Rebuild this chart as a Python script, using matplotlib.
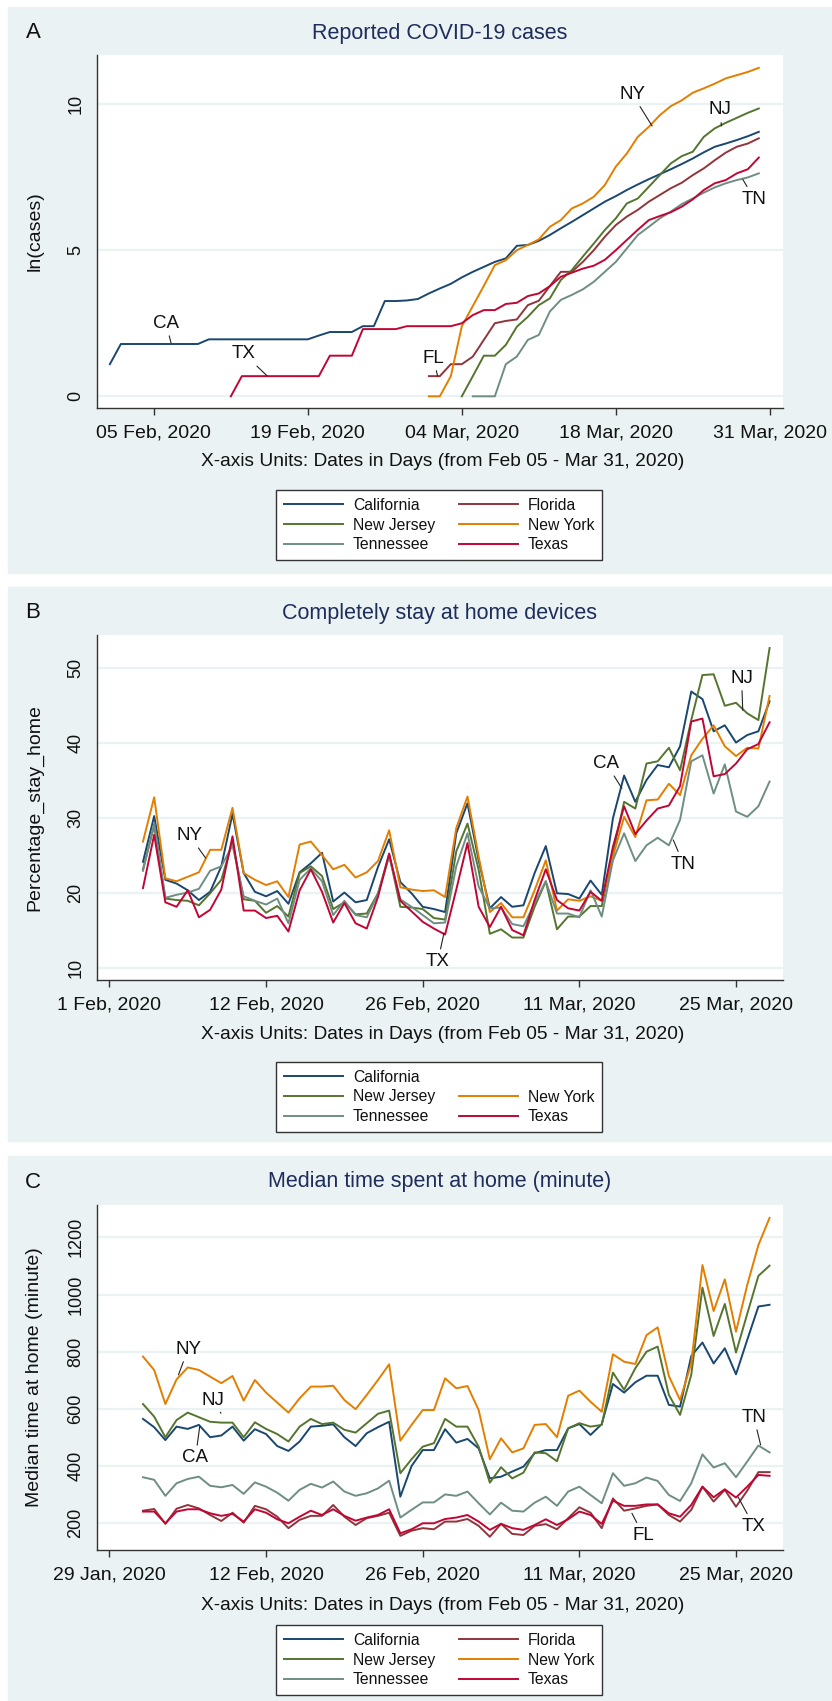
import matplotlib
matplotlib.use("Agg")
import matplotlib.pyplot as plt
from matplotlib.patches import Rectangle
from matplotlib.lines import Line2D

# ---------------- data ----------------
# Panel A: ln(cases), x = day index relative to 05 Feb 2020
ca_a_start = -4
ca_a = [1.10, 1.79, 1.79, 1.79, 1.79, 1.79, 1.79, 1.79, 1.79, 1.95, 1.95, 1.95, 1.95, 1.95,
        1.95, 1.95, 1.95, 1.95, 1.95, 2.08, 2.20, 2.20, 2.20, 2.40, 2.40, 3.26, 3.26, 3.28,
        3.33, 3.52, 3.69, 3.85, 4.07, 4.26, 4.43, 4.60, 4.72, 5.15, 5.18, 5.32, 5.52, 5.75,
        5.97, 6.20, 6.43, 6.66, 6.85, 7.06, 7.25, 7.43, 7.60, 7.77, 7.95, 8.14, 8.35, 8.54,
        8.65, 8.77, 8.90, 9.05]
tx_a_start = 7
tx_a = [0.0, 0.69, 0.69, 0.69, 0.69, 0.69, 0.69, 0.69, 0.69, 1.39, 1.39, 1.39, 2.30, 2.30,
        2.30, 2.30, 2.40, 2.40, 2.40, 2.40, 2.40, 2.50, 2.78, 2.95, 2.95, 3.16, 3.20, 3.43,
        3.52, 3.77, 4.09, 4.23, 4.37, 4.47, 4.67, 5.00, 5.35, 5.70, 6.03, 6.17, 6.30, 6.49,
        6.74, 7.06, 7.29, 7.40, 7.63, 7.77, 8.17]
fl_a_start = 25
fl_a = [0.69, 0.69, 1.10, 1.10, 1.36, 1.93, 2.50, 2.58, 2.63, 3.12, 3.27, 3.77, 4.26, 4.26,
        4.60, 5.00, 5.46, 5.86, 6.15, 6.38, 6.66, 6.89, 7.12, 7.31, 7.57, 7.80, 8.08, 8.34,
        8.54, 8.65, 8.83]
ny_a_start = 25
ny_a = [0.0, 0.0, 0.69, 2.40, 3.09, 3.78, 4.49, 4.66, 5.00, 5.18, 5.37, 5.80, 6.03, 6.43,
        6.60, 6.83, 7.23, 7.86, 8.31, 8.88, 9.22, 9.62, 9.93, 10.13, 10.39, 10.54, 10.70,
        10.88, 10.99, 11.10, 11.24]
nj_a_start = 28
nj_a = [0.0, 0.69, 1.39, 1.39, 1.76, 2.38, 2.72, 3.12, 3.35, 3.98, 4.32, 4.78, 5.23, 5.69,
        6.09, 6.60, 6.77, 7.17, 7.57, 7.97, 8.22, 8.37, 8.88, 9.17, 9.36, 9.53, 9.70, 9.85]
tn_a_start = 29
tn_a = [0.0, 0.0, 0.0, 1.10, 1.36, 1.93, 2.10, 2.90, 3.30, 3.47, 3.66, 3.92, 4.26, 4.60,
        5.06, 5.52, 5.80, 6.09, 6.32, 6.58, 6.77, 6.97, 7.15, 7.29, 7.40, 7.49, 7.63]
a_ticks = [0, 14, 28, 42, 56]
a_ticklabels = ["05 Feb, 2020", "19 Feb, 2020", "04 Mar, 2020", "18 Mar, 2020", "31 Mar, 2020"]

# Panel B: percentage of devices completely at home (57 days)
ca_b = [24.2, 30.3, 21.8, 21.3, 20.4, 19.1, 20.2, 23.6, 30.6, 22.7, 20.2, 19.6, 20.3, 18.6,
        22.8, 24.0, 25.4, 18.9, 20.1, 18.8, 19.1, 23.5, 27.2, 21.5, 20.0, 18.2, 17.9, 17.5,
        28.0, 32.0, 24.4, 18.0, 19.5, 18.2, 18.4, 22.7, 26.3, 20.0, 19.9, 19.3, 21.7, 19.8,
        30.0, 35.7, 32.2, 35.1, 37.1, 36.8, 39.6, 46.9, 45.9, 41.6, 42.4, 40.1, 41.1, 41.6, 45.6]
ny_b = [26.9, 32.8, 22.0, 21.6, 22.2, 22.8, 25.8, 25.8, 31.4, 22.7, 21.8, 21.1, 21.6, 19.5,
        26.5, 26.9, 25.1, 23.2, 23.8, 22.1, 22.8, 24.3, 28.4, 20.8, 20.5, 20.3, 20.4, 19.5,
        28.7, 32.9, 24.9, 17.5, 18.7, 16.8, 16.8, 20.4, 24.4, 17.7, 19.2, 19.0, 19.6, 19.0,
        24.9, 30.2, 27.5, 32.4, 32.5, 34.6, 33.1, 38.4, 40.6, 42.4, 39.6, 38.3, 39.4, 39.3, 46.3]
nj_b = [23.2, 29.0, 19.3, 19.1, 19.0, 18.4, 20.0, 21.8, 26.9, 19.2, 19.0, 17.4, 18.3, 16.9,
        22.7, 23.6, 22.3, 17.9, 18.8, 17.2, 17.3, 20.0, 25.2, 18.2, 18.1, 17.9, 16.7, 16.5,
        25.6, 29.3, 23.1, 14.6, 15.2, 14.1, 14.1, 18.2, 21.6, 15.2, 16.9, 16.9, 18.3, 18.3,
        25.3, 32.2, 31.3, 37.3, 37.6, 39.4, 36.4, 43.1, 49.1, 49.2, 45.0, 45.4, 44.0, 43.1, 52.7]
tn_b = [23.0, 29.3, 19.4, 19.8, 20.1, 20.6, 23.0, 23.6, 26.4, 19.6, 19.0, 18.5, 19.3, 16.0,
        21.8, 23.3, 21.6, 17.1, 19.0, 17.1, 16.8, 19.9, 24.9, 19.2, 18.2, 17.1, 16.0, 16.1,
        23.6, 28.0, 20.9, 18.0, 18.1, 15.9, 15.6, 18.7, 21.6, 17.3, 17.3, 16.8, 20.4, 16.9,
        24.4, 28.0, 24.3, 26.4, 27.4, 26.4, 29.8, 37.6, 38.4, 33.3, 37.2, 30.9, 30.2, 31.6, 34.9]
tx_b = [20.7, 27.8, 18.8, 18.2, 20.4, 16.8, 17.8, 20.5, 27.6, 17.7, 17.7, 16.7, 17.0, 14.9,
        20.4, 23.2, 20.2, 16.1, 18.7, 16.0, 15.3, 19.5, 25.3, 19.0, 17.6, 16.2, 15.3, 14.5,
        20.5, 26.7, 18.2, 15.5, 18.2, 15.1, 14.4, 19.1, 23.2, 19.1, 18.0, 17.7, 20.2, 19.0,
        26.2, 31.6, 27.9, 29.7, 31.3, 31.7, 34.3, 42.9, 43.3, 35.6, 35.9, 37.3, 39.2, 39.9, 42.8]
bc_ticks = [-3, 11, 25, 39, 53]
b_ticklabels = ["1 Feb, 2020", "12 Feb, 2020", "26 Feb, 2020", "11 Mar, 2020", "25 Mar, 2020"]

# Panel C: median time at home (minutes)
ca_c = [565, 536, 491, 538, 530, 544, 501, 507, 538, 489, 529, 512, 470, 453, 486, 538, 541,
        546, 501, 470, 515, 536, 555, 293, 400, 456, 456, 529, 482, 495, 462, 357, 363, 381,
        398, 445, 456, 456, 532, 547, 509, 547, 687, 657, 693, 716, 716, 614, 608, 785, 832,
        759, 812, 721, 841, 958, 964]
fl_c = [244, 250, 198, 251, 264, 252, 229, 208, 237, 202, 261, 249, 223, 183, 212, 226, 226,
        264, 223, 194, 218, 226, 237, 156, 174, 183, 179, 206, 206, 215, 191, 153, 198, 163,
        159, 191, 197, 179, 218, 256, 237, 183, 287, 244, 252, 261, 266, 229, 206, 247, 328,
        276, 317, 258, 314, 379, 379]
nj_c = [617, 573, 501, 561, 587, 571, 555, 552, 552, 501, 553, 530, 512, 486, 538, 565, 547,
        552, 527, 517, 550, 583, 594, 375, 424, 468, 480, 565, 538, 538, 468, 342, 396, 357,
        377, 448, 445, 417, 532, 550, 538, 544, 727, 667, 742, 800, 818, 649, 579, 719, 1024,
        855, 967, 797, 932, 1065, 1101]
ny_c = [783, 736, 617, 703, 745, 736, 713, 690, 715, 629, 701, 657, 622, 587, 637, 678, 678,
        681, 631, 599, 649, 701, 756, 489, 544, 596, 596, 707, 672, 680, 596, 424, 497, 448,
        462, 544, 547, 501, 646, 664, 625, 590, 791, 765, 757, 858, 885, 715, 631, 759, 1103,
        942, 1053, 870, 1033, 1173, 1268]
tn_c = [361, 352, 296, 340, 355, 363, 331, 326, 334, 303, 343, 328, 307, 279, 317, 338, 325,
        346, 311, 296, 305, 322, 349, 220, 247, 273, 273, 301, 296, 311, 270, 231, 272, 244,
        241, 272, 293, 261, 311, 328, 299, 270, 375, 331, 340, 360, 348, 299, 278, 340, 441,
        395, 410, 361, 416, 472, 448]
tx_c = [241, 241, 200, 241, 249, 249, 235, 226, 233, 206, 249, 237, 214, 200, 223, 244, 229,
        249, 226, 209, 220, 229, 249, 165, 179, 200, 200, 215, 220, 229, 206, 177, 198, 183,
        177, 194, 214, 194, 214, 241, 229, 198, 279, 261, 261, 266, 266, 235, 223, 264, 328,
        291, 319, 290, 328, 369, 366]
c_ticklabels = ["29 Jan, 2020", "12 Feb, 2020", "26 Feb, 2020", "11 Mar, 2020", "25 Mar, 2020"]

states = ["California", "Florida", "New Jersey", "New York", "Tennessee", "Texas"]

# ---------------- style ----------------
COL = {"California": "#1a476f", "Florida": "#90353b", "New Jersey": "#55752f",
       "New York": "#e37e00", "Tennessee": "#6e8e84", "Texas": "#c10534"}
BG = "#eaf2f3"
TITLE_C = "#1e2d5c"
AX_C = "#333333"
plt.rcParams["font.family"] = ["Liberation Sans", "DejaVu Sans"]

W, H = 832, 1701
fig = plt.figure(figsize=(W / 100, H / 100), dpi=100)


def fx(x):
    return x / W


def fy(y):
    return 1 - y / H


def make_panel(y0, y1, top, bot, letter, title, title_y, ylabel, xlabel_y):
    fig.patches.append(Rectangle((fx(8), fy(y1)), fx(832) - fx(8), fy(y0) - fy(y1),
                                 transform=fig.transFigure, color=BG, zorder=-10))
    ax = fig.add_axes([fx(97), fy(bot), fx(783) - fx(97), (bot - top) / H])
    ax.set_zorder(2)
    ax.set_facecolor("white")
    for s in ["top", "right"]:
        ax.spines[s].set_visible(False)
    for s in ["left", "bottom"]:
        ax.spines[s].set_color(AX_C)
        ax.spines[s].set_linewidth(1.0)
    ax.grid(axis="y", color=BG, linewidth=1.6, zorder=0)
    ax.set_axisbelow(True)
    ax.tick_params(axis="x", length=5, width=1, color=AX_C, pad=7, labelsize=14,
                   labelcolor="#111111")
    ax.tick_params(axis="y", length=0, pad=9, labelsize=13, labelcolor="#111111")
    fig.text(fx(33), fy(title_y), letter, fontsize=16, ha="center", va="center",
             family=["Liberation Sans Narrow", "Liberation Sans", "DejaVu Sans"], color="#111111")
    fig.text(fx(440), fy(title_y), title, fontsize=15.5, ha="center", va="center", color=TITLE_C)
    fig.text(fx(35), fy((top + bot) / 2), ylabel, fontsize=14, rotation=90, ha="center",
             va="center", color="#111111")
    fig.text(fx(443), fy(xlabel_y), "X-axis Units: Dates in Days (from Feb 05 - Mar 31, 2020)",
             fontsize=13.8, ha="center", va="center", color="#111111")
    return ax


def finish_y(ax):
    for lab in ax.get_yticklabels():
        lab.set_rotation(90)
        lab.set_va("center")
        lab.set_ha("right")


def add_legend(handles, labels, cy):
    leg = fig.legend(handles, labels, loc="center", bbox_to_anchor=(fx(439), fy(cy)), ncol=2,
                     frameon=True, fancybox=False, edgecolor=AX_C, facecolor="white",
                     framealpha=1.0, fontsize=11.3, handlelength=3.8, handletextpad=0.6,
                     columnspacing=1.5, labelspacing=0.3, borderpad=0.5)
    leg.get_frame().set_linewidth(1.0)
    leg.set_zorder(3)
    for t in leg.get_texts():
        t.set_color("#111111")


def note(ax, text, xt, yt, xp, yp):
    ax.annotate(text, xy=(xp, yp), xytext=(xt, yt), textcoords="data", fontsize=13.5,
                ha="center", va="center", color="#111111",
                arrowprops=dict(arrowstyle="-", color="#222222", lw=0.8, shrinkA=1, shrinkB=0))


LW = 1.4

# ---------------- Panel A ----------------
axA = make_panel(7, 573, 55, 408, "A", "Reported COVID-19 cases", 33, "ln(cases)", 462)
series_a = {"California": (ca_a_start, ca_a), "Florida": (fl_a_start, fl_a),
            "New Jersey": (nj_a_start, nj_a), "New York": (ny_a_start, ny_a),
            "Tennessee": (tn_a_start, tn_a), "Texas": (tx_a_start, tx_a)}
hA = {}
for st in states:
    s0, vals = series_a[st]
    hA[st], = axA.plot(list(range(s0, s0 + len(vals))), vals, color=COL[st], lw=LW)
axA.set_xlim(-5.17, 57.2)
axA.set_ylim(-0.4, 11.68)
axA.set_xticks(a_ticks)
axA.set_xticklabels(a_ticklabels)
axA.set_yticks([0, 5, 10])
finish_y(axA)
note(axA, "CA", 1.1, 2.5, 1.56, 1.83)
note(axA, "TX", 8.2, 1.45, 10.3, 0.70)
note(axA, "FL", 25.4, 1.31, 25.8, 0.69)
note(axA, "NY", 43.5, 10.34, 45.3, 9.25)
note(axA, "NJ", 51.5, 9.8, 51.6, 9.25)
note(axA, "TN", 54.6, 6.75, 53.55, 7.42)
orderA = ["California", "New Jersey", "Tennessee", "Florida", "New York", "Texas"]
add_legend([hA[s] for s in orderA], orderA, 525)

# ---------------- Panel B ----------------
axB = make_panel(587, 1141, 635, 980, "B", "Completely stay at home devices", 613,
                 "Percentage_stay_home", 1034)
series_b = {"California": ca_b, "New Jersey": nj_b, "New York": ny_b,
            "Tennessee": tn_b, "Texas": tx_b}
hB = {}
for st in ["California", "New Jersey", "New York", "Tennessee", "Texas"]:
    vals = series_b[st]
    hB[st], = axB.plot(list(range(len(vals))), vals, color=COL[st], lw=LW)
axB.set_xlim(-4.11, 57.2)
axB.set_ylim(8.44, 54.44)
axB.set_xticks(bc_ticks)
axB.set_xticklabels(b_ticklabels)
axB.set_yticks([10, 20, 30, 40, 50])
finish_y(axB)
note(axB, "NY", 4.16, 27.7, 5.6, 24.7)
note(axB, "TX", 26.35, 10.9, 26.9, 14.7)
note(axB, "CA", 41.4, 37.3, 42.8, 34.0)
note(axB, "TN", 48.3, 23.9, 47.4, 27.1)
note(axB, "NJ", 53.5, 48.7, 53.6, 44.4)
blank = Line2D([], [], color="none")
add_legend([hB["California"], hB["New Jersey"], hB["Tennessee"], blank, hB["New York"],
            hB["Texas"]], ["California", "New Jersey", "Tennessee", "", "New York", "Texas"],
           1097)

# ---------------- Panel C ----------------
axC = make_panel(1156, 1701, 1205, 1550, "C", "Median time spent at home (minute)", 1182,
                 "Median time at home (minute)", 1605)
series_c = {"California": ca_c, "Florida": fl_c, "New Jersey": nj_c, "New York": ny_c,
            "Tennessee": tn_c, "Texas": tx_c}
hC = {}
for st in states:
    vals = series_c[st]
    hC[st], = axC.plot(list(range(len(vals))), vals, color=COL[st], lw=LW)
axC.set_xlim(-4.11, 57.2)
axC.set_ylim(106.6, 1313)
axC.set_xticks(bc_ticks)
axC.set_xticklabels(c_ticklabels)
axC.set_yticks([200, 400, 600, 800, 1000, 1200])
finish_y(axC)
note(axC, "NY", 4.03, 809, 3.17, 719)
note(axC, "NJ", 6.26, 628, 6.97, 585)
note(axC, "CA", 4.69, 429, 5.07, 538)
note(axC, "TN", 54.6, 571, 55.2, 474)
note(axC, "FL", 44.7, 159, 43.7, 235)
note(axC, "TX", 54.6, 190, 53.2, 291)
add_legend([hC[s] for s in orderA], orderA, 1660)

fig.savefig("out.png", dpi=100)
